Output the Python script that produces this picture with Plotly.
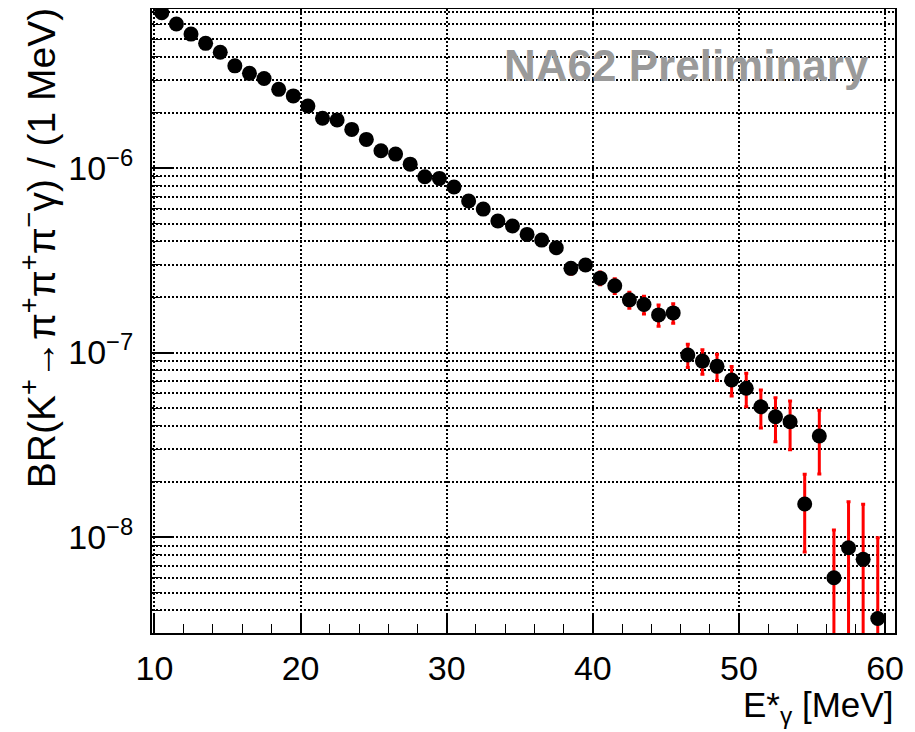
import plotly.graph_objects as go

# Photon energy bin centres [MeV]
e_gamma = [10.5, 11.5, 12.5, 13.5, 14.5, 15.5, 16.5, 17.5, 18.5, 19.5,
           20.5, 21.5, 22.5, 23.5, 24.5, 25.5, 26.5, 27.5, 28.5, 29.5,
           30.5, 31.5, 32.5, 33.5, 34.5, 35.5, 36.5, 37.5, 38.5, 39.5,
           40.5, 41.5, 42.5, 43.5, 44.5, 45.5, 46.5, 47.5, 48.5, 49.5,
           50.5, 51.5, 52.5, 53.5, 54.5, 55.5, 56.5, 57.5, 58.5, 59.5]

# Differential branching ratio per 1 MeV
br = [6.95e-6, 6.03e-6, 5.32e-6, 4.74e-6, 4.24e-6, 3.58e-6, 3.26e-6, 3.06e-6, 2.67e-6, 2.46e-6,
      2.17e-6, 1.86e-6, 1.82e-6, 1.62e-6, 1.43e-6, 1.24e-6, 1.19e-6, 1.05e-6, 8.97e-7, 8.79e-7,
      7.89e-7, 6.63e-7, 5.99e-7, 5.16e-7, 4.85e-7, 4.37e-7, 4.07e-7, 3.70e-7, 2.86e-7, 2.98e-7,
      2.53e-7, 2.30e-7, 1.93e-7, 1.82e-7, 1.60e-7, 1.64e-7, 9.69e-8, 8.99e-8, 8.42e-8, 7.10e-8,
      6.40e-8, 5.08e-8, 4.49e-8, 4.22e-8, 1.51e-8, 3.53e-8, 6.02e-9, 8.75e-9, 7.57e-9, 3.62e-9]

# Uncertainties
br_err = [4.0e-8, 3.8e-8, 3.6e-8, 3.4e-8, 3.3e-8, 3.2e-8, 3.1e-8, 3.0e-8, 2.9e-8, 2.8e-8,
          2.8e-8, 2.7e-8, 2.7e-8, 2.6e-8, 2.6e-8, 2.5e-8, 2.5e-8, 2.5e-8, 2.4e-8, 2.4e-8,
          2.4e-8, 2.3e-8, 2.3e-8, 2.2e-8, 2.2e-8, 2.2e-8, 2.1e-8, 2.1e-8, 2.0e-8, 2.0e-8,
          2.0e-8, 2.1e-8, 1.9e-8, 2.0e-8, 2.1e-8, 2.0e-8, 1.39e-8, 1.37e-8, 1.36e-8, 1.29e-8,
          1.32e-8, 1.18e-8, 1.20e-8, 1.25e-8, 6.8e-9, 1.33e-8, 4.9e-9, 6.8e-9, 7.5e-9, 6.3e-9]

y_tickvals = [1e-8, 1e-7, 1e-6]
y_ticktext = ["10<sup>\u22128</sup>", "10<sup>\u22127</sup>", "10<sup>\u22126</sup>"]
x_tickvals = [10, 20, 30, 40, 50, 60]

FONT = "Liberation Sans, Arial, Helvetica, sans-serif"

fig = go.Figure()
fig.add_trace(go.Scatter(
    x=e_gamma, y=br,
    mode="markers",
    marker=dict(symbol="circle", size=15, color="black", line=dict(width=0)),
    error_y=dict(type="data", array=br_err, visible=True, color="red",
                 thickness=3, width=2),
    showlegend=False,
))

grid_dash = "2px,2px"

# page body has an 8px margin; figure sized/offset to compensate
fig.update_layout(
    width=907, height=724,
    margin=dict(l=144, r=20, t=1, b=99),
    paper_bgcolor="white", plot_bgcolor="white",
    font=dict(family=FONT, color="black", size=34),
    xaxis=dict(
        range=[9.83, 60.68],
        tickvals=x_tickvals,
        ticks="inside", ticklen=18, tickwidth=1.5, tickcolor="black",
        showline=True, linecolor="black", linewidth=2, mirror=True,
        showgrid=True, gridcolor="black", gridwidth=1.5, griddash=grid_dash,
        zeroline=False, automargin=False,
        tickfont=dict(size=34, family=FONT),
        ticklabelstandoff=4,
        minor=dict(dtick=2, ticks="inside", ticklen=9, tickwidth=1.2,
                   tickcolor="black", showgrid=False),
    ),
    yaxis=dict(
        type="log",
        range=[-8.52, -5.138],
        tickvals=y_tickvals, ticktext=y_ticktext,
        ticks="inside", ticklen=20, tickwidth=1.5, tickcolor="black",
        showline=True, linecolor="black", linewidth=2, mirror=True,
        showgrid=True, gridcolor="black", gridwidth=1.5, griddash=grid_dash,
        zeroline=False, automargin=False,
        tickfont=dict(size=34, family=FONT),
        ticklabelstandoff=10,
        minor=dict(dtick="D1", ticks="inside", ticklen=9, tickwidth=1.2,
                   tickcolor="black", showgrid=True, gridcolor="black",
                   gridwidth=1.5, griddash=grid_dash),
    ),
    annotations=[
        dict(text="E*<sub>\u03b3</sub> [MeV]", xref="paper", yref="paper",
             x=1.0, y=-0.118, xanchor="right", yanchor="middle",
             showarrow=False, font=dict(size=35, family=FONT, color="black")),
        dict(text="BR(K<sup>+</sup>\u2192\u03c0<sup>+</sup>\u03c0<sup>+</sup>\u03c0<sup>\u2212</sup>\u03b3) / (1 MeV)",
             xref="paper", yref="paper", x=-0.153, y=1.005,
             xanchor="center", yanchor="top", textangle=-90,
             showarrow=False, font=dict(size=39, family=FONT, color="black")),
        dict(text="<b>NA62 Preliminary</b>", xref="paper", yref="paper",
             x=0.968, y=0.91, xanchor="right", yanchor="middle",
             showarrow=False, font=dict(size=44, family=FONT, color="#9a9a9a")),
    ],
)

fig.write_html("out.html")
